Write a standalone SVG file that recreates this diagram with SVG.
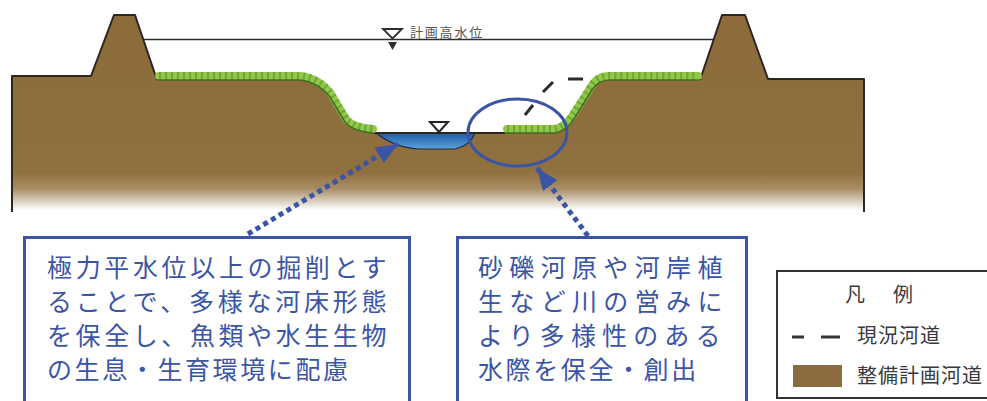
<svg xmlns="http://www.w3.org/2000/svg" width="987" height="401" viewBox="0 0 987 401">
  <style>
    .edge { fill: none; stroke: #2b2620; stroke-width: 2; stroke-linejoin: round; }
    .grass { fill: none; stroke: #92c84a; stroke-width: 8; stroke-linejoin: round; stroke-linecap: round; }
    .tuft { fill: none; stroke: #6da834; stroke-width: 8; stroke-dasharray: 2 4; }
    .turf { fill: none; stroke: #3f6e22; stroke-width: 1.6; stroke-linejoin: round; }
    .callout { fill: #ffffff; stroke: #3b55a6; stroke-width: 3; }
    .note { font-family: "Noto Sans CJK JP", "Noto Sans", sans-serif; font-size: 25px; letter-spacing: 2.6px; fill: #3b55a6; }
    .pointer { fill: none; stroke: #3b55a6; stroke-width: 5; stroke-dasharray: 5 4; }
    .legend-text { font-family: "Noto Sans CJK JP", "Noto Sans", sans-serif; font-size: 20px; fill: #3a3a3a; }
  </style>
  <defs>
    <linearGradient id="soil" x1="0" y1="0" x2="0" y2="210" gradientUnits="userSpaceOnUse">
      <stop offset="0" stop-color="#8c6a3a"/>
      <stop offset="0.82" stop-color="#90703f"/>
      <stop offset="0.9" stop-color="#a88e66"/>
      <stop offset="1" stop-color="#ffffff"/>
    </linearGradient>
    <linearGradient id="water" x1="0" y1="133" x2="0" y2="150" gradientUnits="userSpaceOnUse">
      <stop offset="0" stop-color="#1d5ea8"/>
      <stop offset="1" stop-color="#5fa6dc"/>
    </linearGradient>
    <marker id="head" markerUnits="userSpaceOnUse" markerWidth="24" markerHeight="18" refX="22" refY="9" orient="auto">
      <path d="M0,0 L22,9 L0,18 Z" fill="#3b55a6"/>
    </marker>
  </defs>

  <!-- cross-section of the planned channel -->
  <g id="section">
    <path id="ground" fill="url(#soil)" d="M12,76 L91,76 L114,15 L135,15 L157,80 L300,80 Q318,82 330,97 L345,122 Q352,131 373,133 L378,133 Q395,148 420,149 L455,149 Q470,146 474,133 L505,133 L555,133 Q565,131 572,122 L592,90 Q598,80 610,80 L700,80 L722,15 L745,15 L768,79 L864,79 L864,212 L12,212 Z"/>
    <path id="water-body" fill="url(#water)" stroke="#1f2a44" stroke-width="1.2" d="M376,133 L475,133 Q470,146 455,149 L420,149 Q395,148 376,133 Z"/>
    <path class="edge" d="M12,212 L12,76 L91,76 L114,15 L135,15 L157,80"/>
    <path class="edge" d="M700,80 L722,15 L745,15 L768,79 L864,79 L864,212"/>
    <path class="edge" d="M373,133 L505,133" stroke-width="1.5"/>
    <!-- grassed banks -->
    <path class="grass" d="M159,76 L300,76 Q319,78 331,94 L346,119 Q353,128 373,129"/>
    <path class="tuft" d="M159,76 L300,76 Q319,78 331,94 L346,119 Q353,128 373,129"/>
    <path class="turf" d="M157,80 L300,80 Q318,82 330,97 L345,122 Q352,131 373,133"/>
    <path class="grass" d="M507,129 L555,129 Q564,127 571,118 L591,87 Q597,76 610,76 L698,76"/>
    <path class="tuft" d="M507,129 L555,129 Q564,127 571,118 L591,87 Q597,76 610,76 L698,76"/>
    <path class="turf" d="M505,133 L555,133 Q565,131 572,122 L592,90 Q598,80 610,80 L700,80"/>
    <!-- planned high water level -->
    <line x1="143" y1="39.5" x2="714" y2="39.5" stroke="#2e2e2e" stroke-width="1.6"/>
    <path d="M383,29 L402,29 L392.5,38.5 Z" fill="#ffffff" stroke="#2e2e2e" stroke-width="1.8"/>
    <path d="M388,42 L397,42 L392.5,50 Z" fill="#2e2e2e"/>
    <text x="410" y="37" font-family="Noto Sans CJK JP, sans-serif" font-size="13" letter-spacing="1.8" fill="#555555">計画高水位</text>
    <!-- normal water level mark -->
    <path d="M430,122 L448,122 L439,132 Z" fill="#ffffff" stroke="#222222" stroke-width="2"/>
    <!-- existing channel -->
    <path d="M525,115 L533,105 M543,92 L553,82 M568,79 L583,79" fill="none" stroke="#2b2b2b" stroke-width="3"/>
  </g>

  <!-- connectors -->
  <g id="connectors">
    <ellipse cx="517.5" cy="132.5" rx="49.5" ry="33.5" fill="none" stroke="#3b55a6" stroke-width="3"/>
    <path class="pointer" d="M248,234 L398,144" marker-end="url(#head)"/>
    <path class="pointer" d="M588,236 L537,168" marker-end="url(#head)"/>
  </g>

  <g id="note-bed">
    <rect class="callout" x="24.5" y="237.5" width="385" height="180"/>
    <text class="note" x="47" y="277" textLength="342" lengthAdjust="spacing">極力平水位以上の掘削とす</text>
    <text class="note" x="47" y="311" textLength="342" lengthAdjust="spacing">ることで、多様な河床形態</text>
    <text class="note" x="47" y="345" textLength="342" lengthAdjust="spacing">を保全し、魚類や水生生物</text>
    <text class="note" x="47" y="379">の生息・生育環境に配慮</text>
  </g>

  <g id="note-waterside">
    <rect class="callout" x="457.5" y="237.5" width="289" height="180"/>
    <text class="note" x="478" y="277" textLength="247" lengthAdjust="spacing">砂礫河原や河岸植</text>
    <text class="note" x="478" y="311" textLength="247" lengthAdjust="spacing">生など川の営みに</text>
    <text class="note" x="478" y="345" textLength="245" lengthAdjust="spacing">より多様性のある</text>
    <text class="note" x="478" y="379">水際を保全・創出</text>
  </g>

  <g id="legend">
    <rect x="777" y="271" width="230" height="127" fill="#ffffff" stroke="#333333" stroke-width="2"/>
    <text class="legend-text" x="845" y="302" font-size="22">凡</text>
    <text class="legend-text" x="893" y="302" font-size="22">例</text>
    <path d="M792,337 L804,337 M821,337 L840,337" stroke="#333333" stroke-width="3"/>
    <text class="legend-text" x="857" y="343" letter-spacing="1">現況河道</text>
    <rect x="793" y="365" width="49" height="22" fill="#8c6d3f"/>
    <text class="legend-text" x="857" y="383" letter-spacing="1">整備計画河道</text>
  </g>
</svg>
